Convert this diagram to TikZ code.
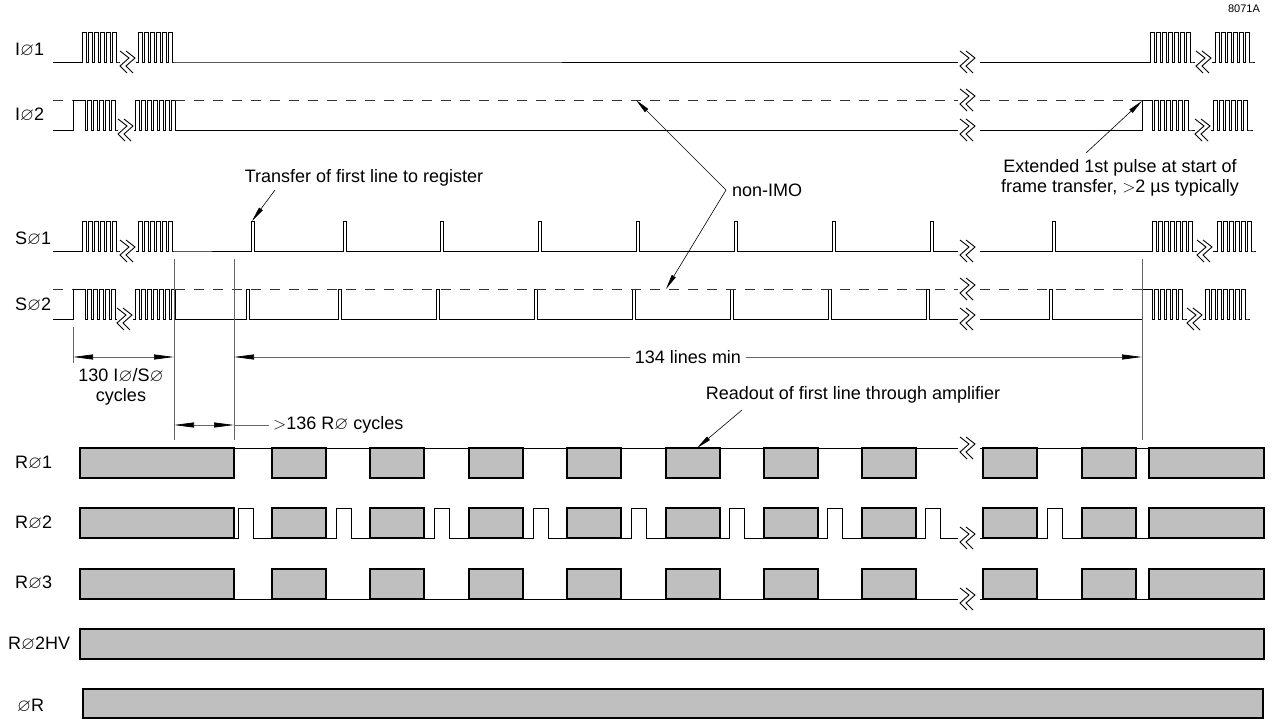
\documentclass[tikz,border=0pt]{standalone}
\usepackage{amssymb}
\usepackage{fontspec}
\setmainfont{Liberation Sans}
\usetikzlibrary{arrows.meta, positioning}

\newcommand{\Phs}{\ensuremath{\varnothing}}
\newcommand{\burst}[1]{\foreach \k in {1,...,#1}{ -- ++(0,-30) -- ++(4,0) -- ++(0,30) -- ++(2,0)}}
\newcommand{\sigbreak}[2]{%
	\draw[sig] (#1-8,#2-11) -- ++(9,7) -- ++(-9,8) -- ++(7,7);
	\draw[sig] (#1-2,#2-11) -- ++(9,7) -- ++(-9,8) -- ++(7,7);}

\begin{document}
\begin{tikzpicture}[x=1pt, y=-1pt]
		\tikzstyle{sig} = [line width=0.9pt]
		\tikzstyle{imo} = [line width=0.9pt, dash pattern=on 10pt off 9pt, black!80]
		\tikzstyle{Box} = [draw=black, line width=1.1pt, fill=black!25]
		\tikzstyle{guide} = [line width=0.7pt, black!60]
		\tikzstyle{dim} = [guide, >={Triangle[length=20pt, width=5pt, color=black]}]
		\tikzstyle{arrow} = [line width=0.6pt, ->, >={Triangle[length=15pt, width=4.5pt]}]
		\tikzstyle{Label} = [font=\fontsize{18}{20}\selectfont, inner sep=0pt]
		
		\useasboundingbox (0,0) rectangle (1276,719);
		
		\node (lI1) [Label, anchor=west] at (15,50) {I\Phs1};
		\node (lI2) [Label, anchor=west] at (15,115) {I\Phs2};
		\node (lS1) [Label, anchor=west] at (15,239) {S\Phs1};
		\node (lS2) [Label, anchor=west] at (15,305) {S\Phs2};
		\node (lR1) [Label, anchor=west] at (15,463) {R\Phs1};
		\node (lR2) [Label, anchor=west] at (15,523) {R\Phs2};
		\node (lR3) [Label, anchor=west] at (15,583) {R\Phs3};
		\node (lRHV) [Label, anchor=west] at (8,644) {R\Phs2HV};
		\node (lOR) [Label, anchor=west] at (17,706) {\Phs R};
		\node (code) [font=\fontsize{11}{13}\selectfont, inner sep=0pt] at (1244,9) {8071A};
		
		% I phase 1
		\draw[sig] (53,62) -- (82,62) \burst{6} -- (120,62);
		\sigbreak{128}{62}
		\draw[sig] (136,62) -- (138,62) \burst{6} -- (958,62);
		\sigbreak{968}{62}
		\draw[sig] (980,62) -- (1150,62) \burst{7} -- (1195,62);
		\sigbreak{1204}{62}
		\draw[sig] (1212,62) -- (1215,62) \burst{6} -- (1255,62);
		
		% I phase 2
		\draw[imo] (53,100) -- (73,100);
		\draw[sig] (53,130) -- (73,130) -- (73,100) -- (85,100) -- (85,130) -- (87,130) \burst{5} -- (118,130);
		\sigbreak{126}{130}
		\draw[sig] (134,130) -- (135,130) \burst{6} -- ++(0,-30) -- (175,100) -- (175,130) -- (958,130);
		\draw[imo] (175,100) -- (958,100);
		\sigbreak{968}{100}
		\sigbreak{968}{130}
		\draw[imo] (980,100) -- (1142,100);
		\draw[sig] (980,130) -- (1142,130) -- (1142,100) -- (1152,100) -- (1152,130) -- (1154,130) \burst{6} -- (1195,130);
		\sigbreak{1203}{130}
		\draw[sig] (1211,130) -- (1213,130) \burst{6} -- (1253,130);
		
		% S phase 1
		\draw[sig] (53,251) -- (82,251) \burst{6} -- (120,251);
		\sigbreak{128}{251}
		\draw[sig] (136,251) -- (138,251) \burst{6}
			\foreach \x in {251,343,440,538,636,734,832,930}{ -- (\x,251) -- ++(0,-30) -- ++(3.3,0) -- ++(0,30)} -- (958,251);
		\sigbreak{968}{251}
		\draw[sig] (980,251) -- (1052,251) -- ++(0,-30) -- ++(3.3,0) -- ++(0,30) -- (1152,251) \burst{7} -- (1197,251);
		\sigbreak{1205}{251}
		\draw[sig] (1213,251) -- (1217,251) \burst{6} -- (1256,251);
		
		% S phase 2
		\draw[imo] (53,289) -- (73,289);
		\draw[sig] (53,319) -- (73,319) -- (73,289) -- (85,289) -- (85,319) -- (87,319) \burst{5} -- (117,319);
		\sigbreak{125}{319}
		\draw[sig] (133,319) -- (135,319) \burst{6} -- ++(0,-30) -- (175,289) -- (175,319)
			\foreach \x in {246,338,436,534,632,730,828,926}{ -- (\x,319) -- ++(0,-30) -- ++(3.3,0) -- ++(0,30)} -- (958,319);
		\draw[imo] (175,289) -- (958,289);
		\sigbreak{968}{289}
		\sigbreak{968}{319}
		\draw[imo] (980,289) -- (1142,289);
		\draw[sig] (980,319) -- (1049,319) -- ++(0,-30) -- ++(3.3,0) -- ++(0,30) -- (1142,319) -- (1142,289) -- (1152,289) -- (1152,319) -- (1154,319) \burst{5} -- (1187,319);
		\sigbreak{1195}{319}
		\draw[sig] (1203,319) -- (1205,319) \burst{7} -- (1250,319);
		
		% R phases
		\draw[sig] (234,448) -- (958,448);
		\draw[sig] (980,448) -- (1149,448);
		\draw[sig] (234,538) \foreach \x in {238,336,434,533,631,729,827,925}{ -- (\x,538) -- ++(0,-30) -- ++(15,0) -- ++(0,30)} -- (958,538);
		\draw[sig] (980,538) -- (1047,538) -- ++(0,-30) -- ++(15,0) -- ++(0,30) -- (1149,538);
		\draw[sig] (234,599) -- (958,599);
		\draw[sig] (980,599) -- (1149,599);
		\foreach \y in {448,508,569}{
			\draw[Box] (80,\y) rectangle (234,\y+30);
			\foreach \x in {272,370,469,567,666,764,862,983,1082}
				\draw[Box] (\x,\y) rectangle (\x+54,\y+30);
			\draw[Box] (1149,\y) rectangle (1264,\y+30);
		}
		\sigbreak{968}{448}
		\sigbreak{968}{538}
		\sigbreak{968}{599}
		\draw[Box] (80,629) rectangle (1264,659);
		\draw[Box] (83,689) rectangle (1263,718);
		
		% timing marks
		\draw[guide] (174,259) -- (174,440);
		\draw[guide] (234,259) -- (234,440);
		\draw[guide] (1142,259) -- (1142,440);
		\draw[guide] (73,327) -- (73,363);
		
		\node (n130) [Label, align=center] at (121,387) {130 I\Phs/S\Phs\\cycles};
		\node (n134) [Label, inner sep=5pt] at (688,357) {134 lines min};
		\node (n136) [Label, anchor=west] at (273,425) {\ensuremath{>}136 R\Phs{} cycles};
		\coordinate (d1) at (73,357);
		\coordinate (d2) at (174,357);
		\coordinate (d3) at (234,357);
		\coordinate (d4) at (1142,357);
		\coordinate (d5) at (174,425);
		\coordinate (d6) at (234,425);
		\draw[dim, <->] (d1) -- (d2);
		\draw[dim, <-] (d3) -- (n134.west);
		\draw[dim, ->] (n134.east) -- (d4);
		\draw[dim, <->] (d5) -- (d6);
		\draw[dim] (d6) -- ([xshift=-4pt]n136.west);
		
		% notes
		\node (transfer) [Label] at (364,178) {Transfer of first line to register};
		\node (nonimo) [Label, anchor=west] at (732,190) {non-IMO};
		\node (extended) [Label, align=center] at (1120,178) {Extended 1st pulse at start of\\frame transfer, \ensuremath{>}2 µs typically};
		\node (readout) [Label] at (853,395) {Readout of first line through amplifier};
		\coordinate (t1) at (275,190);
		\coordinate (t2) at (252,221);
		\coordinate (m0) at (726,190);
		\coordinate (m1) at (636,100);
		\coordinate (m2) at (666,289);
		\coordinate (e1) at (1086,153);
		\coordinate (e2) at (1142,101);
		\coordinate (r1) at (742,410);
		\coordinate (r2) at (697,448);
		\draw[arrow] (t1) -- (t2);
		\draw[arrow] (m0) -- (m1);
		\draw[arrow] (m0) -- (m2);
		\draw[arrow] (e1) -- (e2);
		\draw[arrow] (r1) -- (r2);
\end{tikzpicture}
\end{document}
